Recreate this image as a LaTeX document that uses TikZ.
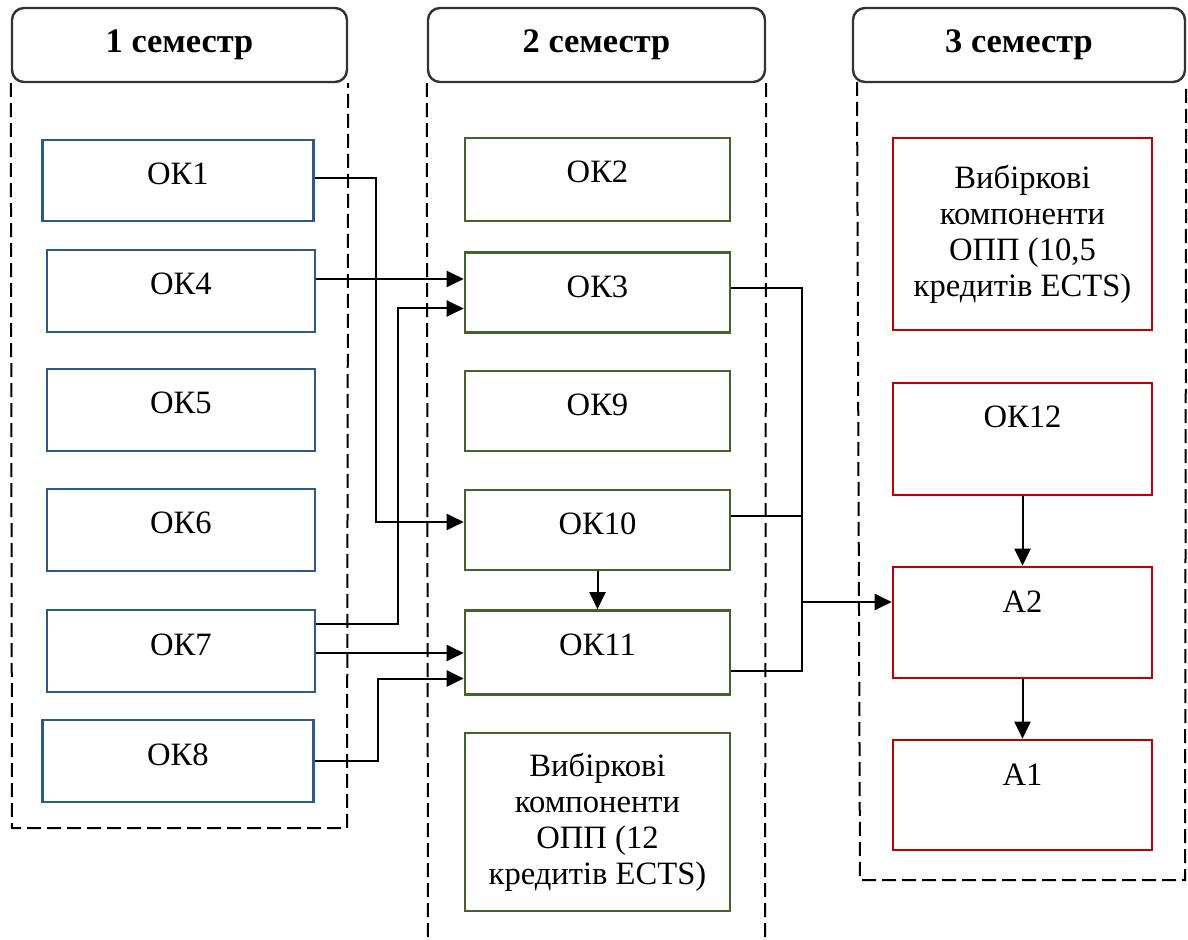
\documentclass[tikz,border=0pt]{standalone}
\usepackage{fontspec}
\setmainfont{Liberation Serif}
\usetikzlibrary{arrows.meta}
\definecolor{okblue}{HTML}{2E5A87}
\definecolor{okgreen}{HTML}{44632A}
\definecolor{okred}{HTML}{C00000}

\begin{document}
\begin{tikzpicture}[x=0.5pt, y=-0.5pt, every node/.style={font=\fontsize{16.3}{18}\selectfont},
  sem/.style={draw=black!80, line width=1.2pt, rounded corners=6pt, minimum height=37pt, inner sep=0pt, font=\bfseries\fontsize{17.2}{19}\selectfont},
  frame/.style={dashed, dash pattern=on 7pt off 3pt, line width=1pt},
  cell/.style={line width=1.3pt, inner ysep=0pt},
  one/.style={text height=22.5pt, text depth=#1},
  many/.style={align=center, inner sep=0pt},
  conn/.style={line width=1pt},
  arr/.style={conn, -{Triangle[length=8.5pt, width=8pt]}}]
\useasboundingbox (0,0) rectangle (1188,940);
\node[sem, minimum width=167.5pt] (h1) at (179.5,45) {1 семестр};
\node[sem, minimum width=168.5pt] (h2) at (596.5,45) {2 семестр};
\node[sem, minimum width=166pt] (h3) at (1019,45) {3 семестр};
\draw[frame] (h1.south west) -- (12,828) -- (347,828) -- (h1.south east);
\draw[frame] (h2.south west) -- (428,940);
\draw[frame] (h2.south east) -- (765,940);
\draw[frame] (857,82) -- (860,880) -- (1185,880) -- (h3.south east);
\node[cell, draw=okblue, minimum width=135.5pt, one=18pt] (ok1) at (178,180.5) {ОК1};
\node[cell, draw=okblue, minimum width=134pt, one=18.5pt] (ok4) at (181,291) {ОК4};
\node[cell, draw=okblue, minimum width=134pt, one=18.5pt] (ok5) at (181,410) {ОК5};
\node[cell, draw=okblue, minimum width=134pt, one=18.5pt] (ok6) at (181,530) {ОК6};
\node[cell, draw=okblue, minimum width=134pt, one=18.5pt] (ok7) at (181,651) {ОК7};
\node[cell, draw=okblue, minimum width=135.5pt, one=18.5pt] (ok8) at (178,761) {ОК8};
\node[cell, draw=okgreen, minimum width=132.5pt, one=19pt] (ok2) at (597.5,179.5) {ОК2};
\node[cell, draw=okgreen, minimum width=132.5pt, one=17.5pt] (ok3) at (597.5,292.5) {ОК3};
\node[cell, draw=okgreen, minimum width=132.5pt, one=17.5pt] (ok9) at (597.5,411) {ОК9};
\node[cell, draw=okgreen, minimum width=132.5pt, one=17.5pt] (ok10) at (597.5,530) {ОК10};
\node[cell, draw=okgreen, minimum width=132.5pt, one=19.5pt] (ok11) at (597.5,652.5) {ОК11};
\node[cell, many, draw=okgreen, minimum width=132.5pt, minimum height=89pt] (v2) at (597.5,822) {Вибіркові\\компоненти\\ОПП (12\\кредитів ECTS)};
\node[cell, many, draw=okred, minimum width=129.5pt, minimum height=96pt] (v3) at (1022.5,234) {Вибіркові\\компоненти\\ОПП (10,5\\кредитів ECTS)};
\node[cell, draw=okred, minimum width=129.5pt, one=33.5pt] (ok12) at (1022.5,439) {ОК12};
\node[cell, draw=okred, minimum width=129.5pt, one=33pt] (a2) at (1022.5,622.5) {А2};
\node[cell, draw=okred, minimum width=129.5pt, one=32.5pt] (a1) at (1022.5,795) {А1};
\coordinate (m) at (801,602);
\draw[arr] ([yshift=1pt]ok1.east) -- ++(61,0) |- ([yshift=4pt]ok10.west);
\draw[arr] ([yshift=6pt]ok4.east) -- ([yshift=6pt]ok4.east -| ok3.west);
\draw[arr] ([yshift=13.5pt]ok7.east) -- ++(82,0) |- ([yshift=-8pt]ok3.west);
\draw[arr] ([yshift=-1pt]ok7.east) -- ([yshift=-1pt]ok7.east -| ok11.west);
\draw[arr] (ok8.east) -- ++(63,0) |- ([yshift=-13pt]ok11.west);
\draw[arr] (ok10.south) -- (ok11.north);
\draw[conn] ([yshift=2pt]ok3.east) -- ++(71,0) |- ([yshift=-9pt]ok11.east);
\draw[conn] ([yshift=7pt]ok10.east) -- ++(71,0);
\draw[arr] (m) -- (m -| a2.west);
\draw[arr] (ok12.south) -- (a2.north);
\draw[arr] (a2.south) -- (a1.north);
\end{tikzpicture}
\end{document}
